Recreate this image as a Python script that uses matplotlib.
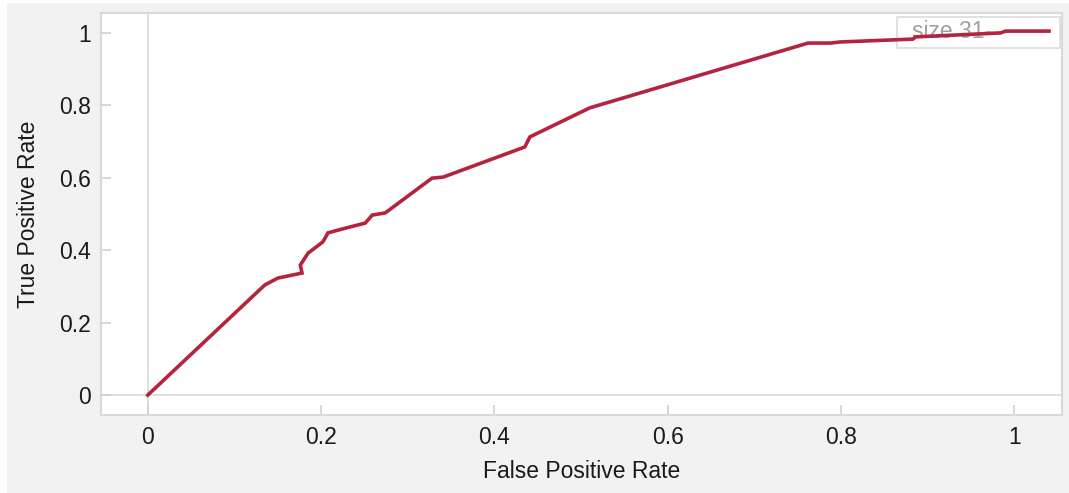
import matplotlib
matplotlib.use("Agg")
import matplotlib.pyplot as plt
import matplotlib.patches as mpatches

plt.rcParams.update({
    "font.family": ["Liberation Sans", "DejaVu Sans"],
})

# ROC curve vertices
FPR = [0.000, 0.135, 0.150, 0.178, 0.176, 0.185, 0.202, 0.208, 0.225,
       0.251, 0.259, 0.274, 0.328, 0.341, 0.435, 0.441, 0.510, 0.762,
       0.788, 0.799, 0.883, 0.886, 0.984, 0.990, 1.040]
TPR = [0.000, 0.304, 0.323, 0.337, 0.359, 0.392, 0.423, 0.448, 0.459,
       0.475, 0.497, 0.503, 0.599, 0.602, 0.685, 0.713, 0.793, 0.972,
       0.972, 0.975, 0.983, 0.989, 1.000, 1.005, 1.005]

XTICKS = [0, 0.2, 0.4, 0.6, 0.8, 1]
XTICK_LABELS = ["0", "0.2", "0.4", "0.6", "0.8", "1"]
YTICKS = [0, 0.2, 0.4, 0.6, 0.8, 1]
YTICK_LABELS = ["0", "0.2", "0.4", "0.6", "0.8", "1"]
LEGEND_TEXT = "size 31-"

LINE_COLOR = "#b5243f"
BG = "#f2f2f2"
FRAME = "#d9d9d9"
FS = 16.5

fig = plt.figure(figsize=(10.69, 4.93), dpi=100, facecolor=BG)
# thin white strips at the left and top edges of the screenshot
fig.patches.append(mpatches.Rectangle((0, 0), 7 / 1069, 1, transform=fig.transFigure,
                                      facecolor="white", edgecolor="none", zorder=-1))
fig.patches.append(mpatches.Rectangle((0, 1 - 3 / 493), 1, 3 / 493, transform=fig.transFigure,
                                      facecolor="white", edgecolor="none", zorder=-1))

ax = fig.add_axes([101 / 1069, 78 / 493, 961 / 1069, 402 / 493])
ax.set_facecolor("white")

# zero lines
ax.axvline(0, color="#dcdcdc", linewidth=1.3, zorder=1)
ax.axhline(0, color="#dcdcdc", linewidth=1.3, zorder=1)

# legend-like box (top right)
ax.add_patch(mpatches.Rectangle((0.828, 0.913), 0.170, 0.077, transform=ax.transAxes,
                                facecolor="white", edgecolor="#dcdcdc", linewidth=1.2, zorder=2))
ax.text(0.844, 0.937, LEGEND_TEXT, transform=ax.transAxes, fontsize=FS, color="#a0a0a0",
        ha="left", va="baseline", zorder=2)

ax.plot(FPR, TPR, color=LINE_COLOR, linewidth=2.6, solid_joinstyle="miter", zorder=3)

ax.set_xlim(-0.054, 1.055)
ax.set_ylim(-0.055, 1.055)
ax.set_xticks(XTICKS)
ax.set_xticklabels(XTICK_LABELS)
ax.set_yticks(YTICKS)
ax.set_yticklabels(YTICK_LABELS)
ax.tick_params(axis="both", direction="in", length=7, width=1.2, color="#d0d0d0",
               labelsize=FS, labelcolor="#1a1a1a")
ax.tick_params(axis="x", pad=8)
ax.tick_params(axis="y", pad=7)

for s in ax.spines.values():
    s.set_color(FRAME)
    s.set_linewidth(1.5)

ax.set_xlabel("False Positive Rate", fontsize=FS, color="#1a1a1a", labelpad=8)
ax.set_ylabel("True Positive Rate", fontsize=FS, color="#1a1a1a", labelpad=14)

fig.savefig("out.png", dpi=100, facecolor=BG)
